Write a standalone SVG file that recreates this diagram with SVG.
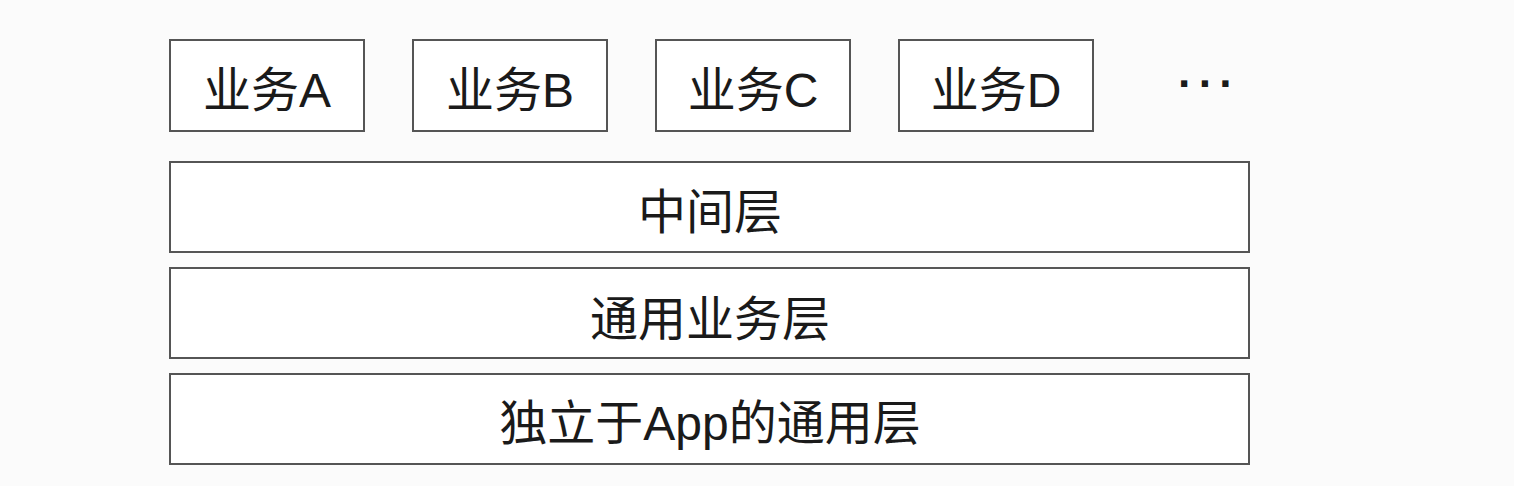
<svg xmlns="http://www.w3.org/2000/svg" width="1514" height="486" viewBox="0 0 1514 486">
<style>
.box{fill:#fff;stroke:#555;stroke-width:2}
.t{font-family:"Liberation Sans","Noto Sans CJK SC",sans-serif;font-size:48px;fill:#1a1a1a;text-anchor:middle}
</style>
<rect width="1514" height="486" fill="#fbfbfb"/>
<g id="bizA"><rect class="box" x="170" y="40" width="194" height="91"/><text class="t" x="267" y="107">业务A</text></g>
<g id="bizB"><rect class="box" x="413" y="40" width="194" height="91"/><text class="t" x="510" y="107">业务B</text></g>
<g id="bizC"><rect class="box" x="656" y="40" width="194" height="91"/><text class="t" x="753" y="107">业务C</text></g>
<g id="bizD"><rect class="box" x="899" y="40" width="194" height="91"/><text class="t" x="996" y="107">业务D</text></g>
<g id="more"><text class="t" x="1209" y="99" style="letter-spacing:6px;font-weight:bold;font-size:44px">···</text></g>
<g id="middle"><rect class="box" x="170" y="162" width="1079" height="90"/><text class="t" x="710" y="229">中间层</text></g>
<g id="common"><rect class="box" x="170" y="268" width="1079" height="90"/><text class="t" x="710" y="336">通用业务层</text></g>
<g id="base"><rect class="box" x="170" y="374" width="1079" height="90"/><text class="t" x="710" y="440">独立于App的通用层</text></g>
<g id="connectors"></g>
</svg>
